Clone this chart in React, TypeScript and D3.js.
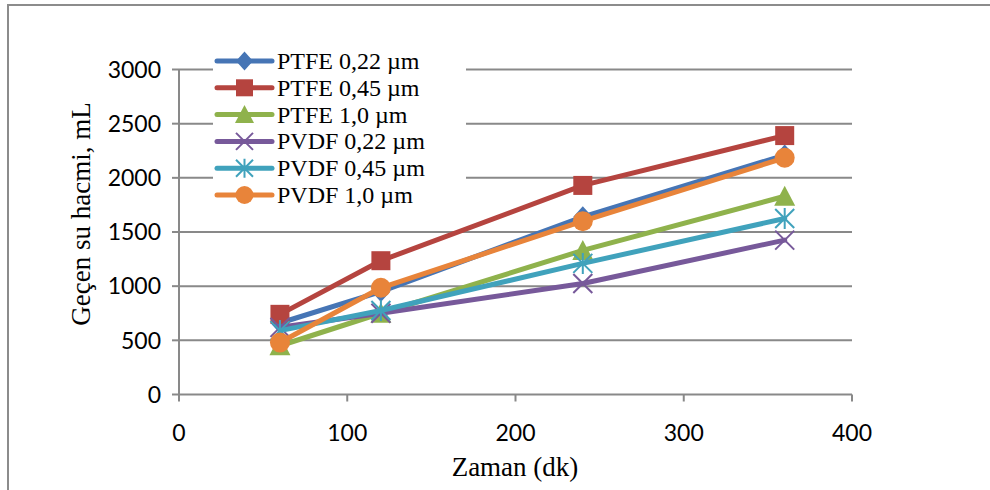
import React from "react";
import * as d3 from "d3";

const times = [60, 120, 240, 360];
const seriesNames = ["PTFE 0,22 µm", "PTFE 0,45 µm", "PTFE 1,0 µm", "PVDF 0,22 µm", "PVDF 0,45 µm", "PVDF 1,0 µm"];
const ptfe022 = [660, 950, 1640, 2210];
const ptfe045 = [740, 1235, 1930, 2390];
const ptfe10 = [450, 750, 1330, 1830];
const pvdf022 = [620, 750, 1025, 1425];
const pvdf045 = [590, 775, 1210, 1625];
const pvdf10 = [480, 985, 1600, 2185];
const xTicks = [0, 100, 200, 300, 400];
const yTicks = [0, 500, 1000, 1500, 2000, 2500, 3000];
const xTitle = "Zaman (dk)";
const yTitle = "Geçen su hacmi, mL";

const colors = ["#4675B5", "#B5443F", "#8FB24C", "#77599A", "#40A2BC", "#E8843A"];
const markers = ["diamond", "square", "triangle", "x", "star", "circle"];
const allValues = [ptfe022, ptfe045, ptfe10, pvdf022, pvdf045, pvdf10];

function Marker({ type, x, y, color, s }: { type: string; x: number; y: number; color: string; s: number }) {
  const h = s / 2;
  if (type === "diamond")
    return <path d={`M${x},${y - h - 1}L${x + h},${y}L${x},${y + h + 1}L${x - h},${y}Z`} fill={color} />;
  if (type === "square") return <rect x={x - h} y={y - h} width={s} height={s} fill={color} />;
  if (type === "triangle")
    return <path d={`M${x},${y - h - 1}L${x + h + 1},${y + h}L${x - h - 1},${y + h}Z`} fill={color} />;
  if (type === "circle") return <circle cx={x} cy={y} r={h + 0.5} fill={color} />;
  if (type === "x")
    return (
      <path d={`M${x - h},${y - h}L${x + h},${y + h}M${x - h},${y + h}L${x + h},${y - h}`} stroke={color} strokeWidth={2} fill="none" />
    );
  return (
    <path
      d={`M${x - h},${y - h}L${x + h},${y + h}M${x - h},${y + h}L${x + h},${y - h}M${x},${y - h - 1}L${x},${y + h + 1}`}
      stroke={color}
      strokeWidth={2}
      fill="none"
    />
  );
}

export default function App() {
  const W = 990, H = 490;
  const x = d3.scaleLinear().domain([0, 400]).range([179, 852]);
  const y = d3.scaleLinear().domain([0, 3000]).range([394.5, 69.5]);
  const line = d3
    .line<number>()
    .x((_, i) => x(times[i]))
    .y((d) => y(d));
  const gridColor = "#898989";
  const serif = "'Liberation Serif', 'Times New Roman', serif";
  const sans = "Lato, 'Open Sans', sans-serif";
  const legX = 217, legY0 = 61, legDy = 26.8;

  return (
    <svg width={W} height={H} style={{ position: "absolute", left: 0, top: 0, background: "#fff" }}>
      <rect x={0} y={0} width={W} height={H} fill="#fff" />
      <rect x={8} y={5} width={1100} height={600} fill="none" stroke="#8c8c8c" strokeWidth={2} />
      {yTicks.slice(1).map((t) => (
        <line key={"g" + t} x1={x(0)} x2={x(400)} y1={y(t)} y2={y(t)} stroke={gridColor} strokeWidth={2} />
      ))}
      <line x1={x(0)} x2={x(0)} y1={y(0)} y2={y(3000)} stroke={gridColor} strokeWidth={2} />
      <line x1={x(0)} x2={x(400)} y1={y(0)} y2={y(0)} stroke={gridColor} strokeWidth={2} />
      {yTicks.map((t) => (
        <g key={"yt" + t}>
          <line x1={x(0) - 7} x2={x(0)} y1={y(t)} y2={y(t)} stroke={gridColor} strokeWidth={2} />
          <text x={161} y={y(t)} dy="0.36em" textAnchor="end" fontFamily={sans} fontSize={23} fill="#000">
            {t}
          </text>
        </g>
      ))}
      {xTicks.map((t) => (
        <g key={"xt" + t}>
          <line x1={x(t)} x2={x(t)} y1={y(0)} y2={y(0) + 7} stroke={gridColor} strokeWidth={2} />
          <text x={x(t)} y={433} dy="0.36em" textAnchor="middle" fontFamily={sans} fontSize={23} fill="#000">
            {t}
          </text>
        </g>
      ))}
      <text x={515} y={467} dy="0.35em" textAnchor="middle" fontFamily={serif} fontSize={27} fill="#000">
        {xTitle}
      </text>
      <text
        transform={`translate(81,214) rotate(-90)`}
        dy="0.35em"
        textAnchor="middle"
        fontFamily={serif}
        fontSize={27}
        fill="#000"
      >
        {yTitle}
      </text>
      {allValues.map((vals, si) => (
        <g key={"s" + si}>
          <path d={line(vals) || ""} fill="none" stroke={colors[si]} strokeWidth={5} strokeLinejoin="round" strokeLinecap="round" />
          {vals.map((v, i) => (
            <Marker key={i} type={markers[si]} x={x(times[i])} y={y(v)} color={colors[si]} s={19} />
          ))}
        </g>
      ))}
      <rect x={213} y={47} width={253} height={163} fill="#fff" />
      {seriesNames.map((n, i) => {
        const ly = legY0 + i * legDy;
        return (
          <g key={"l" + i}>
            <line x1={legX} x2={legX + 55} y1={ly} y2={ly} stroke={colors[i]} strokeWidth={5} strokeLinecap="round" />
            <Marker type={markers[i]} x={legX + 27.5} y={ly} color={colors[i]} s={17} />
            <text x={277} y={ly} dy="0.33em" fontFamily={serif} fontSize={24} fill="#000">
              {n}
            </text>
          </g>
        );
      })}
    </svg>
  );
}
